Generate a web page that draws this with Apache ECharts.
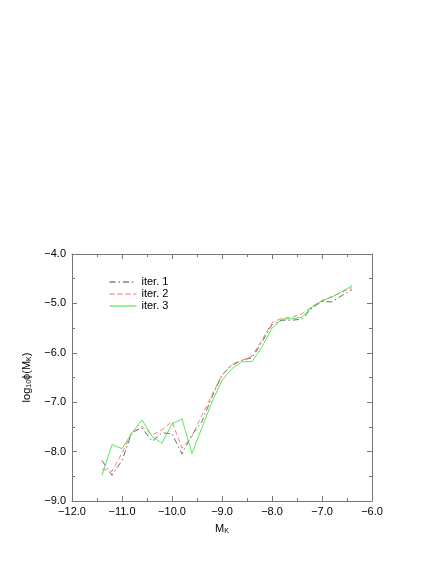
<!DOCTYPE html>
<html>
<head>
<meta charset="utf-8">
<script src="https://cdn.jsdelivr.net/npm/echarts@6/dist/echarts.min.js"></script>
<style>
  html, body { margin: 0; padding: 0; background: #fff; }
  #chart { width: 436px; height: 564px; }
</style>
</head>
<body>
<div id="chart"></div>
<script>
// absolute magnitude bins
var mK = [-11.4, -11.2, -11.0, -10.8, -10.6, -10.4, -10.2, -10.0, -9.8, -9.6, -9.4, -9.2, -9.0,
  -8.8, -8.6, -8.4, -8.2, -8.0, -7.8, -7.6, -7.4, -7.2, -7.0, -6.8, -6.6, -6.4]
var iter1 = [-8.18, -8.48, -8.18, -7.61, -7.52, -7.79, -7.62, -7.64, -8.05, -7.66, -7.39, -6.89, -6.45,
  -6.25, -6.15, -6.10, -5.78, -5.43, -5.34, -5.34, -5.32, -5.09, -4.96, -4.97, -4.84, -4.72]
var iter2 = [-8.35, -8.40, -8.03, -7.62, -7.49, -7.66, -7.56, -7.39, -7.93, -7.69, -7.26, -6.85, -6.45,
  -6.23, -6.15, -6.07, -5.74, -5.39, -5.30, -5.28, -5.21, -5.07, -4.94, -4.86, -4.77, -4.68]
var iter3 = [-8.48, -7.86, -7.94, -7.62, -7.36, -7.69, -7.83, -7.44, -7.34, -8.04, -7.51, -6.99, -6.56,
  -6.32, -6.18, -6.18, -5.88, -5.50, -5.32, -5.31, -5.28, -5.07, -4.95, -4.87, -4.76, -4.64]
var seriesNames = ['iter. 1', 'iter. 2', 'iter. 3']

var chart = echarts.init(document.getElementById('chart'))
var font = 'Liberation Sans'
var axisColor = '#777'

function pairs (ys) {
  return mK.map(function (x, i) { return [x, ys[i]] })
}
function fmt (v) {
  return v.toFixed(1).replace('-', '\u2212')
}

var tickStuff = {
  axisLine: { show: true, onZero: false, lineStyle: { color: axisColor, width: 1 } },
  axisTick: { show: true, inside: true, length: 5, lineStyle: { color: axisColor } },
  minorTick: { show: true, splitNumber: 2, length: 3, lineStyle: { color: axisColor } },
  splitLine: { show: false }
}

function xAx (pos, labels) {
  return Object.assign({
    type: 'value', position: pos, min: -12, max: -6, interval: 1,
    axisLabel: { show: labels, color: '#000', fontFamily: font, fontSize: 11, margin: 5, formatter: fmt },
    name: labels ? '{m|M}{s|K}' : '',
    nameLocation: 'middle', nameGap: 21,
    nameTextStyle: { rich: {
      m: { fontFamily: font, fontSize: 11, color: '#000' },
      s: { fontFamily: font, fontSize: 7, color: '#000', verticalAlign: 'bottom', padding: [6, 0, 0, 0] }
    } }
  }, tickStuff)
}
function yAx (pos, labels) {
  return Object.assign({
    type: 'value', position: pos, min: -9, max: -4, interval: 1,
    axisLabel: { show: labels, color: '#000', fontFamily: font, fontSize: 11, margin: 6, formatter: fmt },
    name: labels ? '{t|log}{s|10}{t|\u03d5(M}{s|K}{t|)}' : '',
    nameLocation: 'middle', nameGap: 39,
    nameTextStyle: { rich: {
      t: { fontFamily: font, fontSize: 11, color: '#000' },
      s: { fontFamily: font, fontSize: 7, color: '#000', padding: [6, 0, 0, 0] }
    } }
  }, tickStuff)
}

chart.setOption({
  animation: false,
  backgroundColor: '#fff',
  grid: { left: 72, right: 64, top: 254, bottom: 63 },
  legend: {
    orient: 'vertical', left: 109, top: 276, itemGap: 0, padding: 0,
    itemWidth: 27, itemHeight: 8,
    itemStyle: { opacity: 0 },
    lineStyle: { width: 1 },
    textStyle: { fontFamily: font, fontSize: 11, color: '#000', lineHeight: 12 },
    data: seriesNames
  },
  xAxis: [xAx('bottom', true), xAx('top', false)],
  yAxis: [yAx('left', true), yAx('right', false)],
  series: [
    { name: seriesNames[0], type: 'line', data: pairs(iter1), showSymbol: false, symbol: 'none',
      color: '#444', lineStyle: { width: 0.8, type: [6, 3, 1.5, 3], color: '#444' } },
    { name: seriesNames[1], type: 'line', data: pairs(iter2), showSymbol: false, symbol: 'none',
      color: '#ff6060', lineStyle: { width: 0.8, type: [5, 3], color: '#ff6060' } },
    { name: seriesNames[2], type: 'line', data: pairs(iter3), showSymbol: false, symbol: 'none',
      color: '#30e030', lineStyle: { width: 0.8, color: '#30e030' } }
  ]
})
</script>
</body>
</html>
